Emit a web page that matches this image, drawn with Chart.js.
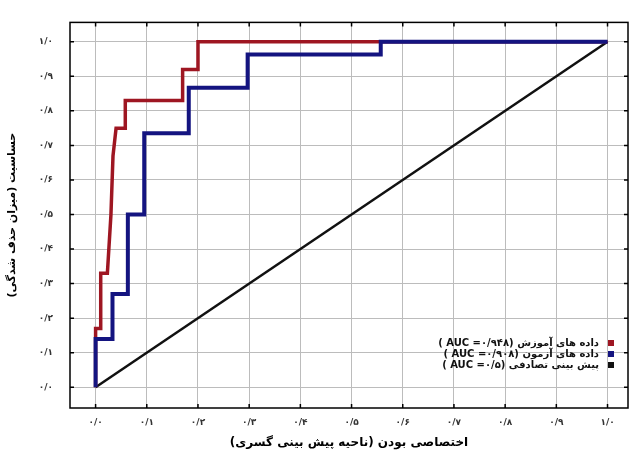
<!DOCTYPE html>
<html lang="fa">
<head>
<meta charset="utf-8">
<script src="https://cdn.jsdelivr.net/npm/chart.js@4.4.1/dist/chart.umd.min.js"></script>
<style>
    html, body { margin: 0; padding: 0; background: #fff; }
    #wrap { position: relative; width: 633px; height: 458px; }
    #legend { position: absolute; right: 19px; top: 337px; font: bold 10px "DejaVu Sans", sans-serif; direction: rtl; color: #111; }
    .row { display: flex; align-items: center; height: 11px; white-space: nowrap; }
    .sw { width: 6px; height: 6px; margin-left: 9px; }
</style>
</head>
<body>
<div id="wrap">
    <canvas id="chart-roc" width="633" height="458"></canvas>
    <div id="legend"></div>
</div>
<script>
// ----- Datos (curvas ROC) -----
const fprTrain = [0, 0, 0.01, 0.01, 0.023, 0.03, 0.034, 0.04, 0.058, 0.058, 0.17, 0.17, 0.2, 0.2, 1.0];
const tprTrain = [0, 0.17, 0.17, 0.33, 0.33, 0.5, 0.67, 0.75, 0.75, 0.83, 0.83, 0.92, 0.92, 1.0, 1.0];

const fprTest = [0, 0, 0.033, 0.033, 0.063, 0.063, 0.095, 0.095, 0.182, 0.182, 0.297, 0.297, 0.557, 0.557, 1.0];
const tprTest = [0, 0.14, 0.14, 0.27, 0.27, 0.5, 0.5, 0.735, 0.735, 0.867, 0.867, 0.963, 0.963, 1.0, 1.0];

const fprRandom = [0, 1];
const tprRandom = [0, 1];

const seriesNames = [
    'داده های آموزش (AUC =۰/۹۴۸ )',
    'داده های آزمون (AUC =۰/۹۰۸ )',
    'پیش بینی تصادفی (AUC =۰/۵ )'
];
const seriesColors = ['#9e1622', '#141480', '#111111'];

const tickValues = [0, 0.1, 0.2, 0.3, 0.4, 0.5, 0.6, 0.7, 0.8, 0.9, 1.0];
const tickLabels = ['۰/۰', '۰/۱', '۰/۲', '۰/۳', '۰/۴', '۰/۵', '۰/۶', '۰/۷', '۰/۸', '۰/۹', '۱/۰'];

const xTitle = 'اختصاصی بودن (ناحیه پیش بینی گسری)';
const yTitle = 'حساسیت (میزان حذف شدگی)';

const toPoints = (xs, ys) => xs.map((x, i) => ({ x: x, y: ys[i] }));

// marco negro + marcas de tick hacia adentro
const framePlugin = {
    id: 'frame',
    afterDatasetsDraw(chart) {
        const { ctx, chartArea: a, scales } = chart;
        ctx.save();
        ctx.strokeStyle = '#000';
        ctx.lineWidth = 1.5;
        ctx.strokeRect(a.left, a.top, a.right - a.left, a.bottom - a.top);
        ctx.beginPath();
        tickValues.forEach(v => {
            const px = scales.x.getPixelForValue(v);
            ctx.moveTo(px, a.bottom); ctx.lineTo(px, a.bottom - 4);
            ctx.moveTo(px, a.top); ctx.lineTo(px, a.top + 4);
            const py = scales.y.getPixelForValue(v);
            ctx.moveTo(a.left, py); ctx.lineTo(a.left + 4, py);
            ctx.moveTo(a.right, py); ctx.lineTo(a.right - 4, py);
        });
        ctx.stroke();
        ctx.restore();
    }
};

const fontTicks = { family: '"DejaVu Sans"', size: 9, weight: 'bold' };
const fontTitle = { family: '"DejaVu Sans"', size: 11, weight: 'bold' };

new Chart(document.getElementById('chart-roc').getContext('2d'), {
    type: 'scatter',
    data: {
        datasets: [
            { label: seriesNames[1], data: toPoints(fprTest, tprTest), borderColor: seriesColors[1], borderWidth: 4 },
            { label: seriesNames[0], data: toPoints(fprTrain, tprTrain), borderColor: seriesColors[0], borderWidth: 3.5 },
            { label: seriesNames[2], data: toPoints(fprRandom, tprRandom), borderColor: seriesColors[2], borderWidth: 2.5 }
        ].map(d => Object.assign(d, { showLine: true, pointRadius: 0, fill: false, tension: 0, borderJoinStyle: 'miter' }))
    },
    options: {
        responsive: false,
        animation: false,
        layout: { padding: { top: 12, right: 5, left: 0, bottom: 0 } },
        plugins: { legend: { display: false }, tooltip: { enabled: false } },
        scales: {
            x: {
                type: 'linear', min: -0.05, max: 1.04,
                afterBuildTicks: s => { s.ticks = tickValues.map(v => ({ value: v })); },
                afterFit: s => { s.height = 50; },
                ticks: { callback: (v, i) => tickLabels[i], font: fontTicks, color: '#333', padding: 9, maxRotation: 0 },
                grid: { color: '#bcbcbc', lineWidth: 1, drawTicks: false },
                border: { display: false },
                title: { display: true, text: xTitle, font: { family: '"DejaVu Sans"', size: 12, weight: 'bold' }, color: '#000', padding: { top: 4, bottom: 8 } }
            },
            y: {
                type: 'linear', min: -0.06, max: 1.056,
                afterBuildTicks: s => { s.ticks = tickValues.map(v => ({ value: v })); },
                afterFit: s => { s.width = 70; },
                ticks: { callback: (v, i) => tickLabels[i], font: fontTicks, color: '#333', padding: 17 },
                grid: { color: '#bcbcbc', lineWidth: 1, drawTicks: false },
                border: { display: false },
                title: { display: true, text: yTitle, font: fontTitle, color: '#000', padding: { top: 6, bottom: 4 } }
            }
        }
    },
    plugins: [framePlugin]
});

// leyenda dentro del área (abajo a la derecha)
const legend = document.getElementById('legend');
[0, 1, 2].forEach(i => {
    legend.innerHTML += `<div class="row"><span class="sw" style="background:${seriesColors[i]}"></span><span>${seriesNames[i]}</span></div>`;
});
</script>
</body>
</html>
